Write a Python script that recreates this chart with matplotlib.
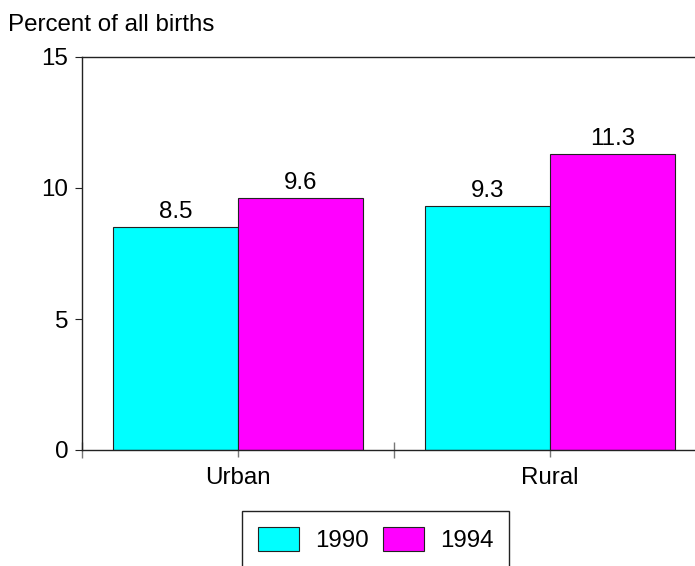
import numpy as np
import matplotlib
matplotlib.use("Agg")
from matplotlib import pyplot as plt
from matplotlib.ticker import FixedLocator, NullFormatter

plt.rcParams['font.family'] = ['Liberation Sans', 'DejaVu Sans']

# Data
areas = ["Urban", "Rural"]
years = ["1990", "1994"]
pct_1990 = [8.5, 9.3]
pct_1994 = [9.6, 11.3]
colors = ["#00FFFF", "#FF00FF"]

FS = 17.4
BAR_W = 0.4

fig = plt.figure(figsize=(6.95, 5.66), dpi=100)
ax = fig.add_axes([82 / 695, 1 - 450 / 566, 624 / 695, 393 / 566])

centers = np.arange(len(areas)) + 0.5
b1 = ax.bar(centers - BAR_W / 2, pct_1990, BAR_W, color=colors[0],
            edgecolor="#222222", linewidth=0.8, label=years[0])
b2 = ax.bar(centers + BAR_W / 2, pct_1994, BAR_W, color=colors[1],
            edgecolor="#222222", linewidth=0.8, label=years[1])
for bars in (b1, b2):
    ax.bar_label(bars, fmt="%.1f", padding=3, fontsize=FS)

ax.set_xlim(0, 2)
ax.set_ylim(0, 15)

# y axis
ax.set_yticks([0, 5, 10, 15])
ax.tick_params(axis="y", direction="out", length=5, width=0.8,
               labelsize=FS, pad=5, color="#222222")

# x axis: group separators as major ticks, category labels on minor ticks
ax.xaxis.set_major_locator(FixedLocator([0, 1, 2]))
ax.xaxis.set_major_formatter(NullFormatter())
ax.xaxis.set_minor_locator(FixedLocator(centers))
ax.set_xticklabels(areas, minor=True)
ax.tick_params(axis="x", which="major", direction="inout", length=11.5,
               width=1.0, color="#777777")
ax.tick_params(axis="x", which="minor", direction="out", length=5,
               width=1.0, color="#777777", labelsize=FS, pad=7)

for side in ("left", "top", "bottom"):
    ax.spines[side].set_linewidth(1.0)
    ax.spines[side].set_color("#222222")
ax.spines["right"].set_visible(False)

fig.text(8 / 695, 1 - 31 / 566, "Percent of all births", fontsize=FS,
         va="baseline", ha="left")

leg = fig.legend(handles=[b1, b2], labels=years, loc="upper left",
                 bbox_to_anchor=(242 / 695, 1 - 511 / 566), borderaxespad=0,
                 ncol=2, fontsize=FS, frameon=True, fancybox=False,
                 framealpha=1, edgecolor="#222222", handlelength=1.7,
                 handleheight=1.17, handletextpad=0.66, columnspacing=0.58,
                 borderpad=0.66)
leg.get_frame().set_linewidth(1.0)

fig.savefig("out.png", dpi=100)
